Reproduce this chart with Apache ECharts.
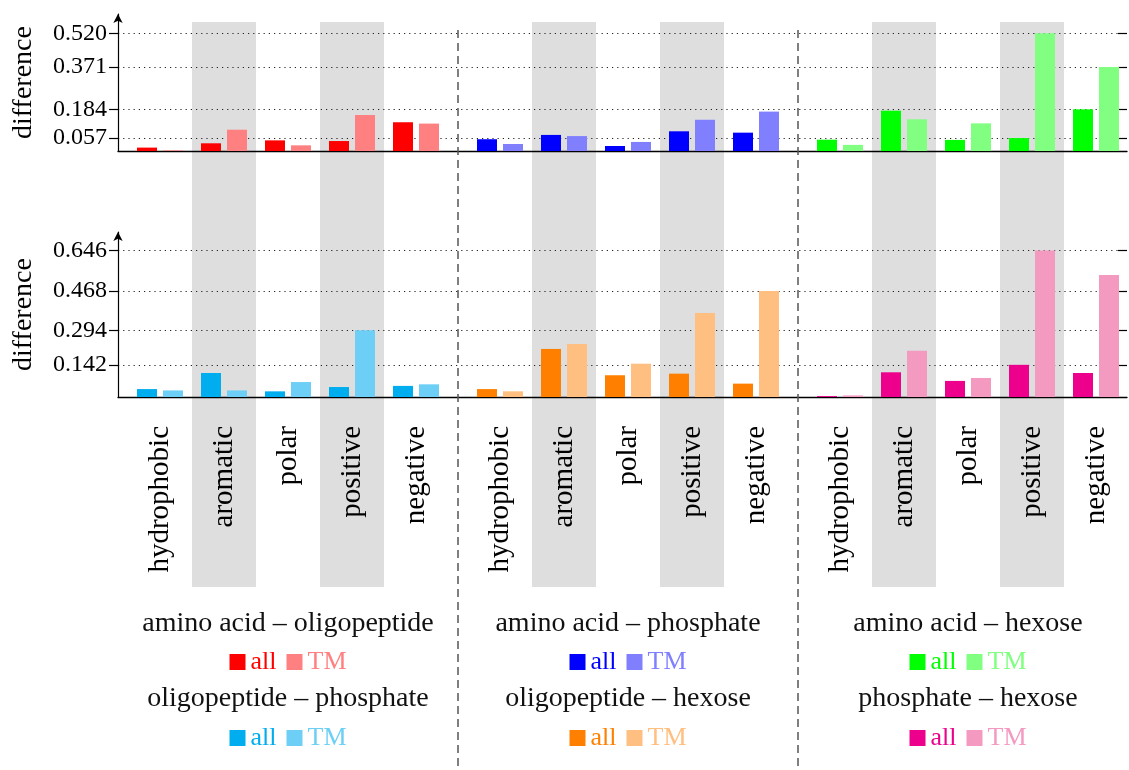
<!DOCTYPE html>
<html>
<head>
<meta charset="utf-8">
<script src="https://cdn.jsdelivr.net/npm/echarts@6/dist/echarts.min.js"></script>
<style>
  html, body { margin: 0; padding: 0; background: #ffffff; }
  #chart { width: 1129px; height: 770px; }
</style>
</head>
<body>
<div id="chart"></div>
<script>
// ---- data ----
const categories = ['hydrophobic', 'aromatic', 'polar', 'positive', 'negative'];

// top row
const aaOligoAll = [0.015, 0.034, 0.047, 0.044, 0.127];
const aaOligoTM  = [0.003, 0.094, 0.025, 0.159, 0.121];
const aaPhosAll  = [0.052, 0.071, 0.022, 0.087, 0.081];
const aaPhosTM   = [0.031, 0.066, 0.040, 0.138, 0.174];
const aaHexAll   = [0.050, 0.178, 0.049, 0.057, 0.184];
const aaHexTM    = [0.027, 0.140, 0.122, 0.520, 0.371];

// bottom row
const oligoPhosAll = [0.035, 0.106, 0.025, 0.044, 0.049];
const oligoPhosTM  = [0.029, 0.029, 0.066, 0.294, 0.056];
const oligoHexAll  = [0.035, 0.212, 0.096, 0.103, 0.059];
const oligoHexTM   = [0.025, 0.234, 0.147, 0.371, 0.468];
const phosHexAll   = [0.004, 0.109, 0.071, 0.142, 0.106];
const phosHexTM    = [0.007, 0.204, 0.084, 0.646, 0.538];

const topTicks    = [0.057, 0.184, 0.371, 0.520];
const bottomTicks = [0.142, 0.294, 0.468, 0.646];

const pairNames = [
  ['amino acid – oligopeptide', 'amino acid – phosphate', 'amino acid – hexose'],
  ['oligopeptide – phosphate', 'oligopeptide – hexose', 'phosphate – hexose']
];
const rowData = [
  [[aaOligoAll, aaOligoTM], [aaPhosAll, aaPhosTM], [aaHexAll, aaHexTM]],
  [[oligoPhosAll, oligoPhosTM], [oligoHexAll, oligoHexTM], [phosHexAll, phosHexTM]]
];
const rowTicks = [topTicks, bottomTicks];
const seriesLabels = ['all', 'TM'];

// ---- styling / layout ----
const palette = [
  [['#ff0000', '#ff8080'], ['#0000ff', '#8080ff'], ['#00ff00', '#80ff80']],
  [['#00aeef', '#6dcff6'], ['#ff8000', '#ffbf80'], ['#ec008c', '#f49ac1']]
];
const FONT = 'Liberation Serif';
const AXIS_LEFT = 118, RIGHT_PAD = 2;
const GROUP_LEFT = 128, GROUP_STEP = 340, GROUP_W = 320;
const rows = [
  { top: 14,  base: 151, max: 0.605 },
  { top: 232, base: 397, max: 0.728 }
];
const BAND_TOP = 22, BAND_BOTTOM = 587;
const LEGEND_Y = [662, 738];
const TITLE_CENTER_Y = [624, 699];

const grid = [], xAxis = [], yAxis = [], series = [], title = [], legend = [], graphic = [];

// shaded bands behind every other category, one per group
for (let g = 0; g < 3; g++) {
  const gi = grid.length;
  grid.push({ left: GROUP_LEFT + g * GROUP_STEP, width: GROUP_W, top: BAND_TOP, height: BAND_BOTTOM - BAND_TOP });
  xAxis.push({
    type: 'category', gridIndex: gi, data: categories, z: 0,
    axisLine: { show: false }, axisTick: { show: false, interval: 0 }, axisLabel: { show: false, interval: 0 },
    splitLine: { show: false },
    splitArea: { show: true, interval: 0, areaStyle: { color: ['rgba(255,255,255,0)', '#dedede'] } }
  });
  yAxis.push({ type: 'value', gridIndex: gi, show: false });
}

// full-width axes with the difference scale, one per row
rows.forEach((r, ri) => {
  const gi = grid.length;
  grid.push({ left: AXIS_LEFT, right: RIGHT_PAD, top: r.top, height: r.base - r.top });
  xAxis.push({
    type: 'value', gridIndex: gi, min: 0, max: 1, z: 1,
    axisLine: { show: true, lineStyle: { color: '#000', width: 1.3 } },
    axisTick: { show: false }, axisLabel: { show: false }, splitLine: { show: false }
  });
  const ticks = rowTicks[ri];
  yAxis.push({
    type: 'value', gridIndex: gi, min: 0, max: r.max, z: 1,
    name: 'difference', nameLocation: 'middle', nameRotate: 90, nameGap: 80,
    nameTextStyle: { fontFamily: FONT, fontSize: 28, color: '#000' },
    axisLine: { show: true, lineStyle: { color: '#000', width: 1.2 },
                symbol: ['none', 'arrow'], symbolSize: [7, 9] },
    axisTick: { show: true, length: 9, customValues: ticks, lineStyle: { color: '#000', width: 1.2 } },
    axisLabel: { show: true, customValues: ticks, margin: 11,
                 formatter: v => v.toFixed(3),
                 fontFamily: FONT, fontSize: 24, color: '#000' },
    splitLine: { show: true, lineStyle: { color: '#222', width: 1.2, type: [1.2, 4] } }
  });
  // inward half of the centred tick marks
  yAxis.push({
    type: 'value', gridIndex: gi, min: 0, max: r.max, z: 1,
    axisLine: { show: false },
    axisTick: { show: true, inside: true, length: 9, customValues: ticks, lineStyle: { color: '#000', width: 1.2 } },
    axisLabel: { show: false }, splitLine: { show: false }
  });
});

// bar panels
rows.forEach((r, ri) => {
  for (let g = 0; g < 3; g++) {
    const gi = grid.length;
    grid.push({ left: GROUP_LEFT + g * GROUP_STEP, width: GROUP_W, top: r.top, height: r.base - r.top });
    const xi = xAxis.length, yi = yAxis.length;
    xAxis.push({
      type: 'category', gridIndex: gi, data: categories,
      axisLine: { show: false }, axisTick: { show: false },
      axisLabel: ri === 1
        ? { show: true, rotate: 90, margin: 29, interval: 0, fontFamily: FONT, fontSize: 29, color: '#000' }
        : { show: false },
      splitLine: { show: false }
    });
    yAxis.push({ type: 'value', gridIndex: gi, min: 0, max: r.max, show: false });
    rowData[ri][g].forEach((vals, k) => {
      series.push({
        type: 'bar', name: seriesLabels[k], xAxisIndex: xi, yAxisIndex: yi,
        data: vals, barWidth: 20, barGap: '30%', z: 3, silent: true,
        itemStyle: { color: palette[ri][g][k] }
      });
    });
  }
});

// captions and legends under each group
const measure = (() => {
  const ctx = document.createElement('canvas').getContext('2d');
  return (txt, size) => { ctx.font = size + 'px "' + FONT + '"'; return ctx.measureText(txt).width; };
})();
const LEG_FONT = 26, ICON = 16, ICON_TEXT_GAP = 5, ITEM_GAP = 10;
for (let ri = 0; ri < 2; ri++) {
  for (let g = 0; g < 3; g++) {
    const cx = GROUP_LEFT + g * GROUP_STEP + GROUP_W / 2;
    title.push({
      text: pairNames[ri][g], left: cx, top: TITLE_CENTER_Y[ri] - 15, textAlign: 'center', padding: 0,
      textStyle: { fontFamily: FONT, fontSize: 28, fontWeight: 'normal', color: '#111', lineHeight: 30 }
    });
    const cols = palette[ri][g];
    const w = seriesLabels.reduce((s, t) => s + ICON + ICON_TEXT_GAP + measure(t, LEG_FONT), 0) + ITEM_GAP;
    legend.push({
      left: cx - w / 2, top: LEGEND_Y[ri] - 14, padding: 0, itemGap: ITEM_GAP,
      itemWidth: ICON, itemHeight: ICON, icon: 'rect', selectedMode: false,
      textStyle: { fontFamily: FONT, fontSize: LEG_FONT, padding: [0, 0, 0, 0], lineHeight: 28 },
      data: seriesLabels.map((t, k) => ({
        name: t, icon: 'rect',
        itemStyle: { color: cols[k] },
        textStyle: { color: cols[k], fontFamily: FONT, fontSize: LEG_FONT }
      }))
    });
  }
}

// dashed separators between groups
for (let g = 1; g < 3; g++) {
  const x = GROUP_LEFT + g * GROUP_STEP - (GROUP_STEP - GROUP_W) / 2;
  graphic.push({
    type: 'line', silent: true, z: 5,
    shape: { x1: x, y1: 30, x2: x, y2: 770 },
    style: { stroke: '#555', lineWidth: 1.5, lineDash: [8, 5] }
  });
}

const chart = echarts.init(document.getElementById('chart'), null, { renderer: 'canvas' });
chart.setOption({
  animation: false,
  backgroundColor: '#ffffff',
  grid, xAxis, yAxis, series, title, legend, graphic
});
</script>
</body>
</html>
